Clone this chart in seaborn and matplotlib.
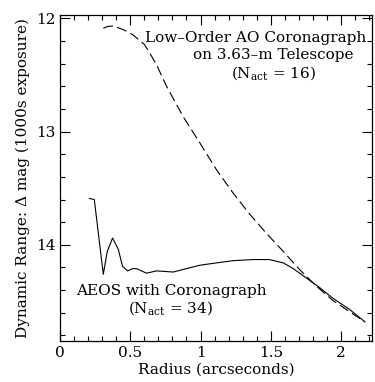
import matplotlib
matplotlib.use("Agg")
import matplotlib.pyplot as plt
import seaborn as sns
import pandas as pd
from matplotlib.ticker import MultipleLocator

# Low-order AO coronagraph (dashed)
low_r = [0.308, 0.34, 0.379, 0.45, 0.52, 0.60, 0.64, 0.687, 0.758, 0.877, 0.995, 1.11, 1.23, 1.35, 1.47, 1.59, 1.706, 1.82, 1.94, 2.06, 2.17]
low_m = [12.088, 12.072, 12.068, 12.10, 12.147, 12.23, 12.31, 12.41, 12.60, 12.87, 13.10, 13.33, 13.54, 13.73, 13.90, 14.06, 14.22, 14.36, 14.49, 14.59, 14.68]

# AEOS with coronagraph (solid)
aeos_r = [0.209, 0.244, 0.308, 0.336, 0.374, 0.415, 0.445, 0.481, 0.517, 0.545, 0.58, 0.616, 0.687, 0.806, 0.90, 0.995, 1.11, 1.23, 1.37, 1.49, 1.59, 1.66, 1.75, 1.85, 1.94, 2.06, 2.17]
aeos_m = [13.59, 13.60, 14.26, 14.06, 13.94, 14.04, 14.19, 14.23, 14.21, 14.21, 14.23, 14.25, 14.23, 14.24, 14.21, 14.18, 14.16, 14.14, 14.13, 14.13, 14.16, 14.21, 14.29, 14.38, 14.47, 14.57, 14.68]

sns.set_style("ticks")
plt.rcParams['font.family'] = ['DejaVu Serif']
plt.rcParams['mathtext.fontset'] = 'dejavuserif'
plt.rcParams['text.color'] = 'black'
plt.rcParams['axes.labelcolor'] = 'black'
plt.rcParams['xtick.color'] = 'black'
plt.rcParams['ytick.color'] = 'black'
plt.rcParams['axes.edgecolor'] = 'black'

fig = plt.figure(figsize=(3.75, 3.82), dpi=100)
ax = fig.add_axes([0.16, 0.107, 0.832, 0.854])

df_low = pd.DataFrame({"r": low_r, "m": low_m})
df_aeos = pd.DataFrame({"r": aeos_r, "m": aeos_m})
sns.lineplot(data=df_low, x="r", y="m", ax=ax, color="black", lw=0.8,
             linestyle=(0, (9, 4)), sort=False)
sns.lineplot(data=df_aeos, x="r", y="m", ax=ax, color="black", lw=0.8, sort=False)

ax.set_xlim(0, 2.22)
ax.set_ylim(14.85, 11.97)
ax.xaxis.set_minor_locator(MultipleLocator(0.1))
ax.yaxis.set_major_locator(MultipleLocator(1))
ax.yaxis.set_minor_locator(MultipleLocator(0.2))
ax.set_xticks([0, 0.5, 1, 1.5, 2])
ax.set_xticklabels(["0", "0.5", "1", "1.5", "2"])
ax.set_yticks([12, 13, 14])
ax.set_yticklabels(["12", "13", "14"])
ax.tick_params(which="both", direction="in", top=True, right=True, labelsize=11, width=0.8)
ax.tick_params(which="major", length=7)
ax.tick_params(which="minor", length=3.5)
for s in ax.spines.values():
    s.set_linewidth(0.9)

ax.set_xlabel("Radius (arcseconds)", fontsize=11, labelpad=2)
ax.set_ylabel("Dynamic Range: \u0394 mag (1000s exposure)", fontsize=11, labelpad=4)

fs = 11
ax.text(1.39, 12.17, "Low\u2013Order AO Coronagraph", ha="center", va="center", fontsize=fs)
ax.text(1.52, 12.32, "on 3.63\u2013m Telescope", ha="center", va="center", fontsize=fs)
ax.text(1.52, 12.48, r"(N$_{\rm act}$ = 16)", ha="center", va="center", fontsize=fs)
ax.text(0.79, 14.41, "AEOS with Coronagraph", ha="center", va="center", fontsize=fs)
ax.text(0.79, 14.56, r"(N$_{\rm act}$ = 34)", ha="center", va="center", fontsize=fs)

fig.savefig("out.png", dpi=100)
